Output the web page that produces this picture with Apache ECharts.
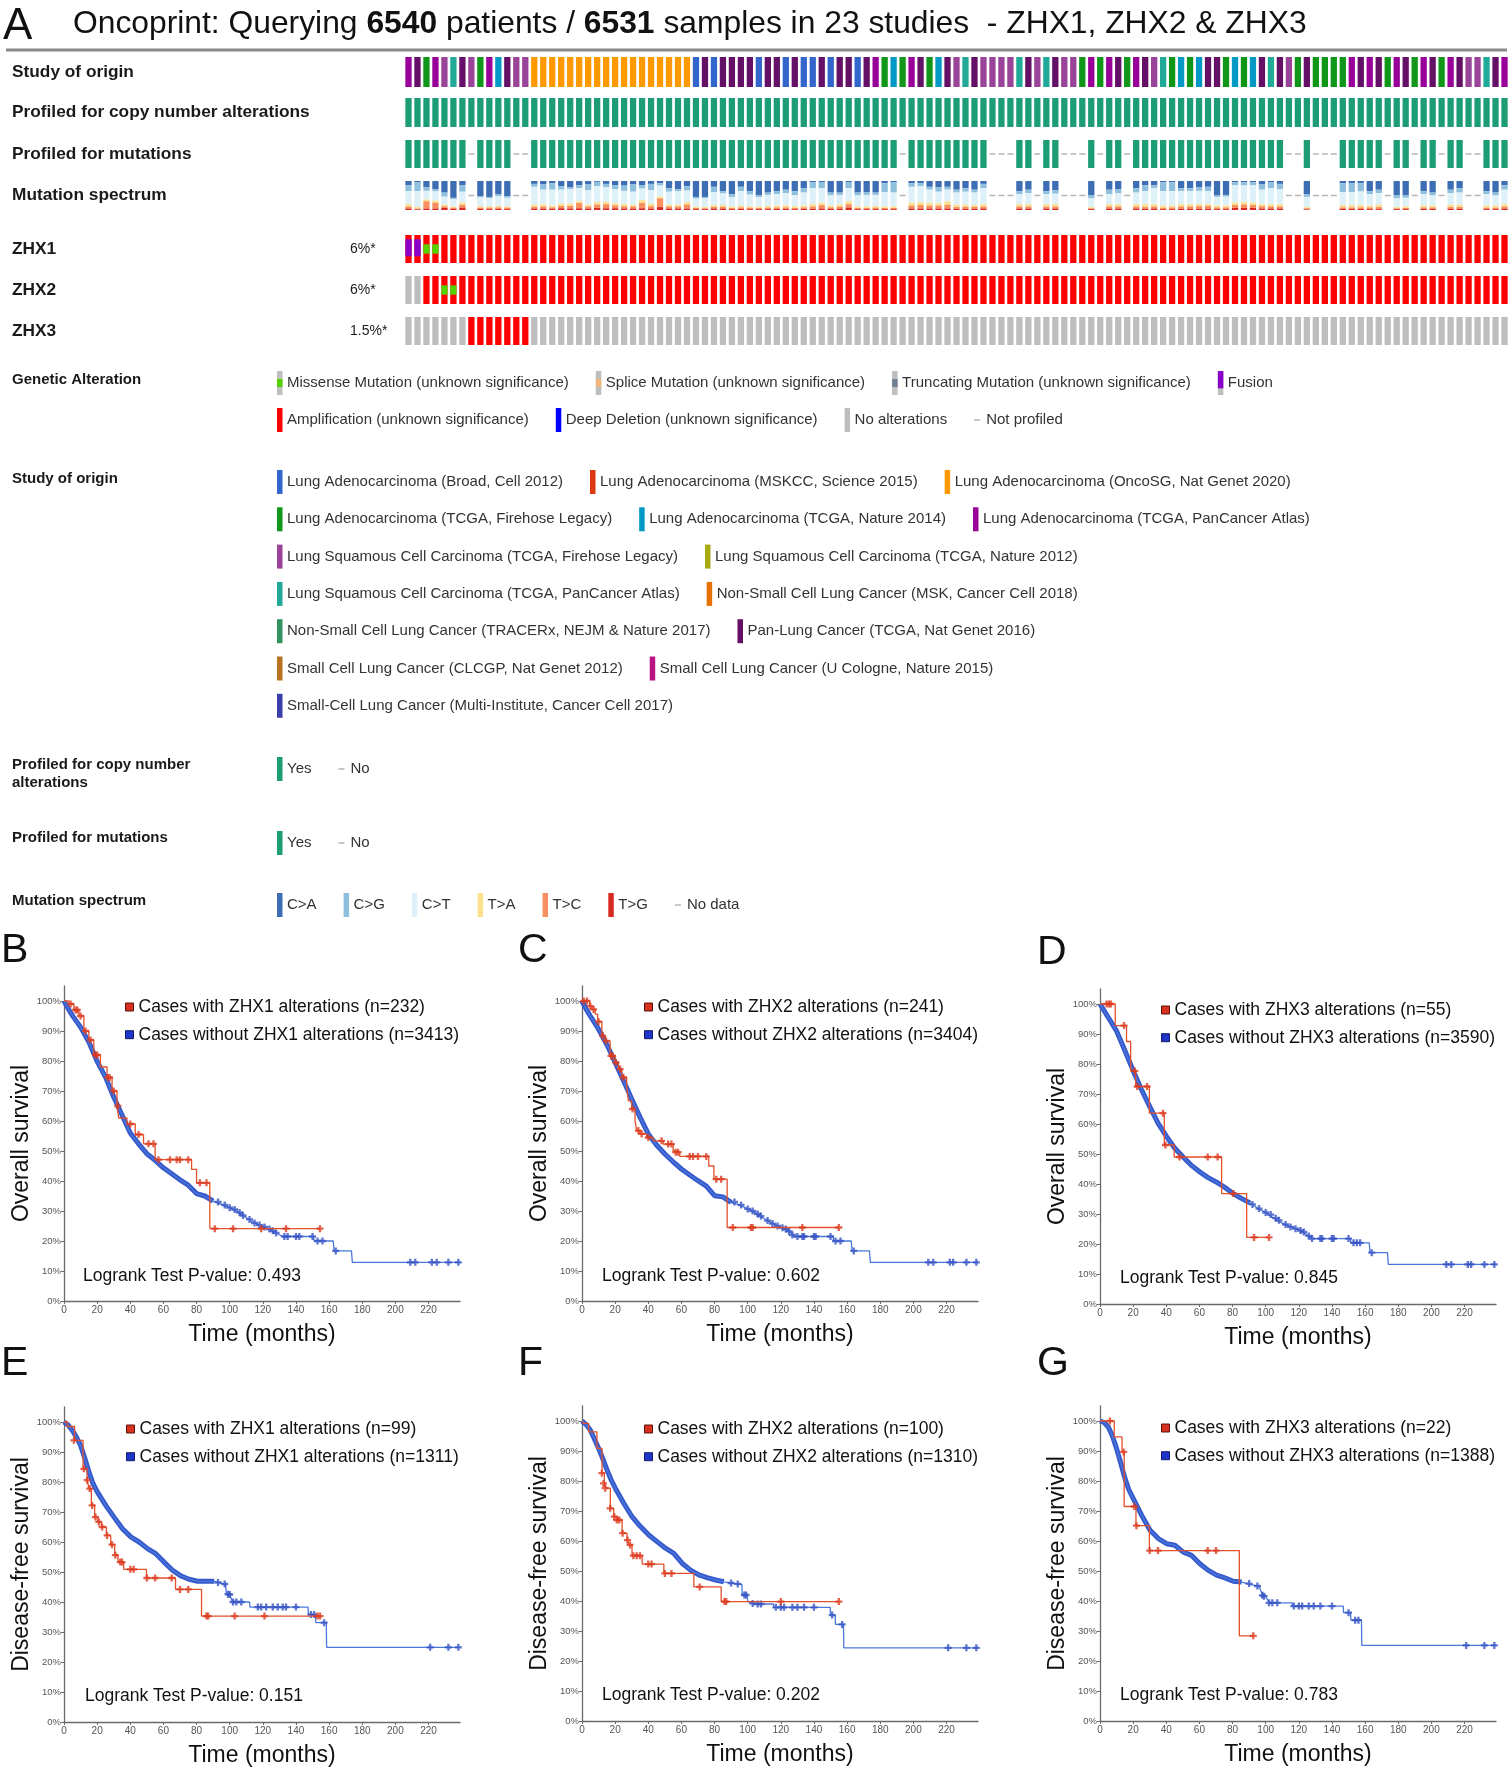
<!DOCTYPE html>
<html>
<head>
<meta charset="utf-8">
<script src="https://cdn.jsdelivr.net/npm/echarts@6/dist/echarts.min.js"></script>
<style>
html,body{margin:0;padding:0;background:#fff}
#chart{width:1509px;height:1772px}
</style>
</head>
<body>
<div id="chart"></div>
<script>
var FONT = '"Liberation Sans", Arial, Helvetica, sans-serif';

// ---------- oncoprint ----------
var studyNames = [
  'Lung Adenocarcinoma (Broad, Cell 2012)', 'Lung Adenocarcinoma (MSKCC, Science 2015)', 'Lung Adenocarcinoma (OncoSG, Nat Genet 2020)',
  'Lung Adenocarcinoma (TCGA, Firehose Legacy)', 'Lung Adenocarcinoma (TCGA, Nature 2014)', 'Lung Adenocarcinoma (TCGA, PanCancer Atlas)',
  'Lung Squamous Cell Carcinoma (TCGA, Firehose Legacy)', 'Lung Squamous Cell Carcinoma (TCGA, Nature 2012)',
  'Lung Squamous Cell Carcinoma (TCGA, PanCancer Atlas)', 'Non-Small Cell Lung Cancer (MSK, Cancer Cell 2018)',
  'Non-Small Cell Lung Cancer (TRACERx, NEJM & Nature 2017)', 'Pan-Lung Cancer (TCGA, Nat Genet 2016)',
  'Small Cell Lung Cancer (CLCGP, Nat Genet 2012)', 'Small Cell Lung Cancer (U Cologne, Nature 2015)',
  'Small-Cell Lung Cancer (Multi-Institute, Cancer Cell 2017)'
];
var studyColors = ['#3366cc','#dc3912','#ff9900','#109618','#0099c6','#990099','#994499','#aaaa11',
  '#22aa99','#e67300','#329262','#651067','#b77322','#b91383','#3b3eac'];
var studyLegendRows = [3,3,2,2,2,2,1];

// study index of each sample column
var studyOfColumn = [5,11,3,5,6,8,11,6,3,5,
  4,11,6,6,2,2,2,2,2,2,
  2,2,2,2,2,2,2,2,2,2,
  2,2,0,11,0,11,11,11,11,0,
  11,11,0,11,0,0,11,0,11,11,
  0,11,5,3,4,3,5,11,3,4,
  11,6,8,11,6,6,6,6,8,11,
  6,8,11,6,6,3,5,3,5,11,
  3,5,11,6,8,3,4,3,4,11,
  11,3,4,3,4,11,8,11,6,3,
  11,3,3,3,3,5,11,5,11,3,
  5,11,3,5,11,3,5,11,6,6,
  8,11,5];

var mutProfiled = [1,1,1,1,1,1,1,0,1,1,
  1,1,0,0,1,1,1,1,1,1,
  1,1,1,1,1,1,1,1,1,1,
  1,1,1,1,1,1,1,1,1,1,
  1,1,1,1,1,1,1,1,1,1,
  1,1,1,1,1,0,1,1,1,1,
  1,1,1,1,1,0,0,0,1,1,
  0,1,1,0,0,0,1,0,1,1,
  0,1,1,1,1,1,1,1,1,1,
  1,1,1,1,1,1,1,1,0,0,
  1,0,0,0,1,1,1,1,1,0,
  1,1,0,1,1,0,1,1,0,0,
  1,1,1];

// mutation spectrum shares per column (top to bottom)
var specCA = [15,5,22,28,40,58,15,null,52,55,
  45,52,null,null,10,12,8,18,22,15,
  12,3,10,14,16,12,14,10,8,25,
  28,18,55,55,20,35,45,20,35,50,
  40,35,30,35,25,5,5,40,40,5,
  40,38,40,8,5,null,8,8,20,22,
  20,30,25,30,10,null,null,null,35,30,
  null,35,32,null,null,null,50,null,30,28,
  null,25,15,15,5,5,25,25,22,20,
  50,48,5,5,5,12,5,10,null,null,
  45,null,null,null,8,8,8,35,30,null,
  50,50,null,35,40,null,30,25,null,null,
  35,40,15];
var specCG = [20,30,12,8,14,5,22,null,5,4,
  8,6,null,null,10,18,22,12,6,10,
  20,15,12,15,18,25,12,22,8,12,
  8,15,6,5,18,8,10,15,12,6,
  8,10,12,14,15,20,20,10,8,20,
  10,10,8,30,35,null,12,10,10,15,
  10,10,12,10,15,null,null,null,10,12,
  null,10,12,null,null,null,10,null,15,15,
  null,15,20,10,30,30,10,10,12,15,
  5,6,10,10,10,18,20,18,null,null,
  10,null,null,null,30,30,28,10,12,null,
  10,8,null,10,10,null,12,15,null,null,
  10,10,15];
var specCT = [45,55,30,32,28,25,38,null,30,28,
  33,30,null,null,62,50,55,48,50,45,
  50,55,50,48,46,45,40,47,38,45,
  46,40,28,30,45,40,33,50,40,32,
  38,40,42,38,45,55,50,35,33,45,
  38,40,38,50,48,null,55,55,45,40,
  40,42,45,43,55,null,null,null,35,38,
  null,35,36,null,null,null,30,null,35,37,
  null,40,45,55,50,50,45,45,45,45,
  30,31,60,58,60,50,55,52,null,null,
  35,null,null,null,45,45,47,40,40,null,
  30,30,null,40,35,null,40,42,null,null,
  40,35,50];
var specTA = [8,5,6,7,5,4,7,null,5,5,
  5,4,null,null,7,8,6,8,8,6,
  6,8,8,7,7,6,10,8,6,6,
  6,8,4,4,6,6,5,6,5,5,
  6,6,7,6,6,8,8,6,8,10,
  5,5,6,5,5,null,10,10,10,8,
  12,8,7,6,8,null,null,null,8,8,
  null,8,8,null,null,null,4,null,8,8,
  null,8,10,8,7,6,8,8,8,6,
  6,6,8,8,8,7,8,8,null,null,
  4,null,null,null,8,8,8,6,8,null,
  4,5,null,6,6,null,8,8,null,null,
  7,7,8];
var specTC = [7,3,25,20,6,4,10,null,4,5,
  5,5,null,null,6,7,5,8,9,18,
  7,12,14,10,8,7,18,8,30,7,
  7,14,4,3,6,6,4,5,5,4,
  5,5,5,4,5,8,12,5,7,12,
  4,4,5,4,4,null,10,12,10,10,
  13,6,7,7,7,null,null,null,7,7,
  null,7,7,null,null,null,3,null,7,7,
  null,7,6,7,5,6,8,8,9,10,
  6,6,10,12,10,8,7,7,null,null,
  4,null,null,null,5,5,5,6,7,null,
  3,4,null,5,5,null,6,6,null,null,
  5,5,7];
var specTG = [5,2,5,5,7,4,8,null,4,3,
  4,3,null,null,5,5,4,6,5,6,
  5,7,6,6,5,5,6,5,10,5,
  5,5,3,3,5,5,3,4,3,3,
  3,4,4,3,4,4,5,4,4,8,
  3,3,3,3,3,null,5,5,5,5,
  5,4,4,4,5,null,null,null,5,5,
  null,5,5,null,null,null,3,null,5,5,
  null,5,4,5,3,3,4,4,4,4,
  3,3,7,7,7,5,5,5,null,null,
  2,null,null,null,4,4,4,3,3,null,
  3,3,null,4,4,null,4,4,null,null,
  3,3,5];
var specLabels = ['C>A','C>G','C>T','T>A','T>C','T>G'];
var specColors = ['#3d6eb4','#8ebfdc','#dff1f8','#fce08e','#f78f5e','#d62b23'];

// alteration per column: A amplification, F fusion, M missense, N none
var zhx1Alt = ('FFMMAAAAAA AAAAAAAAAA AAAAAAAAAA AAAAAAAAAA AAAAAAAAAA AAAAAAAAAA AAAAAAAAAA ' +
  'AAAAAAAAAA AAAAAAAAAA AAAAAAAAAA AAAAAAAAAA AAAAAAAAAA AAA').replace(/ /g, '').split('');
var zhx2Alt = ('NNAAMMAAAA AAAAAAAAAA AAAAAAAAAA AAAAAAAAAA AAAAAAAAAA AAAAAAAAAA AAAAAAAAAA ' +
  'AAAAAAAAAA AAAAAAAAAA AAAAAAAAAA AAAAAAAAAA AAAAAAAAAA AAA').replace(/ /g, '').split('');
var zhx3Alt = ('NNNNNNNAAA AAAANNNNNN NNNNNNNNNN NNNNNNNNNN NNNNNNNNNN NNNNNNNNNN NNNNNNNNNN ' +
  'NNNNNNNNNN NNNNNNNNNN NNNNNNNNNN NNNNNNNNNN NNNNNNNNNN NNN').replace(/ /g, '').split('');
var geneNames = ['ZHX1', 'ZHX2', 'ZHX3'];
var genePercent = ['6%*', '6%*', '1.5%*'];

// ---------- Kaplan-Meier curves [months, survival %] ----------
// B: overall survival, ZHX1
var osZhx1AltSteps = [[0,100],[3,99],[6,97],[9,95],[12,90],[15,87],[18,82],[22,78],[26,74.5],[29,70],[32,65],[33,61],
  [38,59],[43,55.5],[48,52.4],[55,47.1],[77,43.9],[80,39.4],[88,24.1],[154.5,24.1]];
var osZhx1AltCens = [[4,99],[7,97],[8,97],[10,95],[13,90],[16,87],[19,82],[20,82],[26.5,74.5],[27.5,74.5],[30,70],
  [32.5,65],[40,59],[45,55.5],[51,52.4],[54,52.4],[57,47.1],[64,47.1],[68,47.1],[70,47.1],[75,47.1],[82,39.4],
  [86,39.4],[91,24.1],[102,24.1],[119,24.1],[134,24.1],[154.5,24.1]];
var osZhx1WtCurve = [[0,100],[2.5,97.5],[5,95.2],[10,91.3],[15,86.3],[20,79.9],[25,74.7],[30,68],[35,62],[40,56],
  [45,52.4],[50,49.1],[55,46.9],[60,44.4],[65,42.4],[70,40.4],[75,38.6],[80,35.8],[85,35],[90,33.3],[95,32.2],
  [100,31.1],[105,29.7],[110,27.8],[115,26],[120,24.9],[125,23.6],[130,22.1],[132,21.5],[150.5,21.5],[151,20],
  [162.5,20],[163,16.7],[173.5,16.7],[174,12.9],[239,12.9]];
var osZhx1WtCens = [[93,33],[97,32],[100,31.1],[103,30.5],[106,29.5],[108,28.5],[112,27.2],[115,26],[118,25.3],
  [121,24.7],[124,24],[126,23.4],[128,22.7],[133,21.5],[135,21.5],[140,21.5],[142,21.5],[150,21.5],[153,20],
  [156,20],[164,16.7],[209,12.9],[212,12.9],[222,12.9],[225,12.9],[232,12.9],[238,12.9]];

// C: overall survival, ZHX2
var osZhx2AltSteps = [[0,100],[4.6,98.3],[6,97.2],[8,95.6],[9.5,93.1],[12,88.4],[14,86.7],[17,81.7],[20,79.5],
  [22,77.3],[24,74.5],[27,71.2],[28,66.7],[30,64],[32,60.1],[33,56.8],[35,55.7],[39,54.5],[43,53.4],[49,52.3],
  [55,50.1],[56,49.6],[59,48.2],[76.5,45],[79.6,40.6],[87.6,24.5],[155,24.5]];
var osZhx2AltCens = [[1,100],[3,100],[5,98.3],[7,97.2],[10,93.1],[12.5,88.4],[14.5,86.7],[17.5,81.7],[18.5,81.7],
  [20.5,79.5],[23,77.3],[25,74.5],[30.5,64],[34,56.8],[36,55.7],[40,54.5],[48,53.4],[52,52.3],[54,52.3],
  [56.5,49.6],[58,49.6],[65,48.2],[67,48.2],[70,48.2],[75,48.2],[81,40.6],[84,40.6],[91,24.5],[102,24.5],
  [103,24.5],[133,24.5],[155,24.5]];
var osZhx2WtCurve = [[0,100],[2.5,97.3],[5,95],[10,90.6],[15,85.5],[20,79.5],[25,73.5],[30,67.3],[35,61.3],
  [40,55.7],[45,52],[50,49],[55,46.4],[60,44],[65,42],[70,40.1],[75,38.3],[80,35.1],[85,34.7],[90,32.9],[95,32],
  [100,30.7],[105,29.3],[110,27.4],[115,25.8],[120,24.6],[126,22.9],[128,21.5],[151.5,21.5],[152,20],[162.5,20],
  [163,16.7],[173.5,16.7],[174,12.9],[239,12.9]];
var osZhx2WtCens = [[92,33],[96,32],[100,30.7],[103,30],[106,29],[108,28.3],[112,26.8],[115,25.8],[118,25],
  [121,24.4],[123,24],[125,23.2],[127,22],[130,21.5],[133,21.5],[134,21.5],[140,21.5],[141,21.5],[150,21.5],
  [153,20],[156,20],[164,16.7],[209,12.9],[212,12.9],[222,12.9],[224,12.9],[232,12.9],[238,12.9]];

// D: overall survival, ZHX3
var osZhx3AltSteps = [[0,100],[9.2,92.8],[16,87.5],[18.5,77.7],[21.5,72.5],[29.8,63.6],[38.8,53],[44.8,49],
  [73.4,36.8],[88.5,22.2],[102,22.2]];
var osZhx3AltCens = [[4,100],[5.5,100],[6.5,100],[14.5,92.8],[21,77.7],[22.5,72.5],[28.4,72.5],[38,63.6],
  [39.5,53],[48,49],[65,49],[71,49],[80.4,36.8],[93,22.2],[102,22.2]];
var osZhx3WtCurve = [[0,100],[5,95.5],[10,91],[15,84.5],[20.1,77.7],[25,71.5],[30.2,65.6],[35,60.3],[40.2,55.8],
  [45,52],[50.3,48.9],[55,46.3],[60.3,44],[65,42.2],[70.4,40.6],[75,39],[80.4,36.8],[85,35.3],[90.5,33.7],[95,32],
  [100.5,30.3],[105,28.6],[110.6,26.8],[115,25.7],[120.6,24.6],[125,23],[128,21.8],[151,21.8],[151.5,20.4],
  [162.5,20.4],[163,17.1],[173.5,17.1],[174,13.2],[239,13.2]];
var osZhx3WtCens = [[92,33.2],[96,31.8],[100,30.5],[103,29.8],[106,28.6],[108,27.9],[112,26.5],[115,25.7],
  [118,25.1],[121,24.5],[123,24],[126,22.7],[128,21.8],[133,21.8],[134,21.8],[140,21.8],[141,21.8],[150,21.8],
  [153,20.4],[155,20.4],[157,20.4],[164,17.1],[209,13.2],[212,13.2],[222,13.2],[224,13.2],[232,13.2],[238,13.2]];

// E: disease-free survival, ZHX1
var dfsZhx1AltSteps = [[0,100],[2,98.5],[6.4,93.9],[11.5,84.4],[13.9,80.6],[15.1,77.8],[16.5,72.2],[18.5,68.3],
  [20.5,66.7],[22.6,65],[25.6,62.2],[28.2,59.1],[30.6,55.6],[32.6,53.6],[33.5,53.3],[36,50.9],[49.8,48],
  [67.3,44.2],[83,35.3],[154.5,35.3]];
var dfsZhx1AltCens = [[6,93.9],[12,84.4],[14,80.6],[15.5,77.8],[17,72.2],[19,68.3],[21,66.7],[23,65],[26,62.2],
  [29,59.1],[31,55.6],[34,53.3],[35,53.3],[40,50.9],[42,50.9],[50,48],[55,48],[65,48],[70,44.2],[75,44.2],
  [86,35.3],[87,35.3],[103,35.3],[121,35.3],[153,35.3],[154.5,35.3]];
var dfsZhx1WtCurve = [[0,100],[2.5,99],[5,97.2],[7.5,95],[10,92.2],[12.5,88],[15.1,83.3],[17.5,79.5],[20.1,76.7],
  [25.2,72.2],[30.2,68.3],[35.3,64.4],[40.3,61.7],[45.3,60],[50.4,57.8],[55.4,56.1],[60.4,53.3],[65.5,50.6],
  [70.5,48.7],[75.5,47.6],[80.6,46.9],[90.7,46.9],[95.7,46.1],[97.5,46],[98,42.8],[100,42.5],[101.7,40],[112,40],
  [112.2,38.3],[147.3,38.3],[147.5,35.8],[151.8,35.8],[152,33.1],[158.3,33.1],[158.5,24.9],[239,24.9]];
var dfsZhx1WtCens = [[93,46.5],[97,46],[99,42.6],[100,42.5],[102,40],[104,40],[107,40],[117,38.3],[119,38.3],
  [122,38.3],[126,38.3],[129,38.3],[132,38.3],[134,38.3],[140,38.3],[149,35.8],[151,35.8],[157,33.1],
  [221,24.9],[232,24.9],[238,24.9]];

// F: disease-free survival, ZHX2
var dfsZhx2AltSteps = [[0,100],[1,99.2],[4,96.4],[9,90.9],[12.1,82.6],[13.5,79.2],[14.7,77.6],[17.1,70.9],
  [19.1,68.1],[21.6,67],[24.2,62.6],[27.2,60.3],[28.2,58.7],[30.2,55.1],[36.3,52.3],[49.4,49.2],[67.5,44.7],
  [84,39.8],[155,39.8]];
var dfsZhx2AltCens = [[12,82.6],[13,79.2],[14,77.6],[17,70.9],[19.5,68.1],[21,67],[22.5,67],[24.5,62.6],
  [27.5,60.3],[29,58.7],[31,55.1],[33,55.1],[35,55.1],[40,52.3],[42,52.3],[50,49.2],[54,49.2],[71,44.7],
  [86,39.8],[87,39.8],[120,39.8],[155,39.8]];
var dfsZhx2WtCurve = [[0,100],[2.5,98.8],[5,97],[7.5,94],[10,90.9],[12.5,87.5],[15.1,83.7],[17.5,80.5],
  [20.1,77.6],[25.2,72.6],[30.2,68.1],[35.3,64.8],[40.3,62],[45.3,59.8],[50.4,57.6],[55.4,55.9],[60.4,52.6],
  [65.5,50.3],[70.5,48.7],[75.5,47.8],[80.6,47],[85.6,46.4],[92.7,45.7],[96.5,45.5],[96.7,42.2],[99.5,42],
  [100.1,39.8],[103.7,39],[115.6,39],[115.8,37.9],[149.8,37.9],[150,35.3],[152.8,35.3],[153,32.2],[157.8,32.2],
  [158,24.4],[239,24.4]];
var dfsZhx2WtCens = [[90,46],[94,45.7],[98,42],[99,42],[103,39.2],[106,39],[108,39],[117,37.9],[120,37.9],
  [122,37.9],[127,37.9],[130,37.9],[134,37.9],[140,37.9],[151,35.3],[157,32.2],[221,24.4],[232,24.4],[238,24.4]];

// G: disease-free survival, ZHX3
var dfsZhx3AltSteps = [[0,100],[8.6,94.7],[13.3,89.7],[14.6,71.5],[21.7,65.1],[29.8,56.8],[84.1,28.4],[92.5,28.4]];
var dfsZhx3AltCens = [[6,100],[14.3,89.7],[20.7,71.5],[22,65.1],[30,56.8],[35,56.8],[65,56.8],[70,56.8],[92.5,28.4]];
var dfsZhx3WtCurve = [[0,100],[2.5,99.5],[5,98],[7.5,95],[10,90.8],[12.5,86],[15.1,80.8],[17.5,77],[20.1,74.1],
  [25.1,68.6],[30.2,63.6],[35.2,60.8],[40.2,59.1],[45.2,58.6],[50.3,56.3],[55.3,55.2],[60.3,52.4],[65.4,50.2],
  [70.4,48.6],[75.4,47.7],[80.4,46.6],[85.5,46.3],[93.1,45.2],[96,45],[98.1,41.9],[100,41.5],[102.2,39.4],
  [116,39.4],[116.2,38.3],[146.8,38.3],[147,36.1],[151.2,36.1],[151.4,33.6],[157.8,33.6],[158,25.2],[239,25.2]];
var dfsZhx3WtCens = [[90,45.8],[95,45],[98,41.9],[99,41.6],[102,39.4],[104,39.4],[107,39.4],[117,38.3],[120,38.3],
  [122,38.3],[126,38.3],[129,38.3],[133,38.3],[140,38.3],[150,36.1],[154,33.6],[156,33.6],[221,25.2],[232,25.2],[238,25.2]];

var kmPanels = [
  {letter:'B', x:64,   y:986,  lx:1,    ly:930,  yName:'Overall survival', alt:osZhx1AltSteps, altCens:osZhx1AltCens, wt:osZhx1WtCurve, wtCens:osZhx1WtCens,
   altName:'Cases with ZHX1 alterations (n=232)', wtName:'Cases without ZHX1 alterations (n=3413)', p:'0.493', legX:125, legY:997, pX:83, pY:1267},
  {letter:'C', x:582,  y:986,  lx:518,  ly:930,  yName:'Overall survival', alt:osZhx2AltSteps, altCens:osZhx2AltCens, wt:osZhx2WtCurve, wtCens:osZhx2WtCens,
   altName:'Cases with ZHX2 alterations (n=241)', wtName:'Cases without ZHX2 alterations (n=3404)', p:'0.602', legX:644, legY:997, pX:602, pY:1267},
  {letter:'D', x:1100, y:989,  lx:1037, ly:932,  yName:'Overall survival', alt:osZhx3AltSteps, altCens:osZhx3AltCens, wt:osZhx3WtCurve, wtCens:osZhx3WtCens,
   altName:'Cases with ZHX3 alterations (n=55)', wtName:'Cases without ZHX3 alterations (n=3590)', p:'0.845', legX:1161, legY:1000, pX:1120, pY:1269},
  {letter:'E', x:64,   y:1407, lx:1,    ly:1343, yName:'Disease-free survival', alt:dfsZhx1AltSteps, altCens:dfsZhx1AltCens, wt:dfsZhx1WtCurve, wtCens:dfsZhx1WtCens,
   altName:'Cases with ZHX1 alterations (n=99)', wtName:'Cases without ZHX1 alterations (n=1311)', p:'0.151', legX:126, legY:1419, pX:85, pY:1687},
  {letter:'F', x:582,  y:1406, lx:518,  ly:1343, yName:'Disease-free survival', alt:dfsZhx2AltSteps, altCens:dfsZhx2AltCens, wt:dfsZhx2WtCurve, wtCens:dfsZhx2WtCens,
   altName:'Cases with ZHX2 alterations (n=100)', wtName:'Cases without ZHX2 alterations (n=1310)', p:'0.202', legX:644, legY:1419, pX:602, pY:1686},
  {letter:'G', x:1100, y:1406, lx:1037, ly:1343, yName:'Disease-free survival', alt:dfsZhx3AltSteps, altCens:dfsZhx3AltCens, wt:dfsZhx3WtCurve, wtCens:dfsZhx3WtCens,
   altName:'Cases with ZHX3 alterations (n=22)', wtName:'Cases without ZHX3 alterations (n=1388)', p:'0.783', legX:1161, legY:1418, pX:1120, pY:1686}
];
var bandEnd = 92;   // dense censoring band drawn thick up to here
var PLUS = 'path://M2,0H4V2H6V4H4V6H2V4H0V2H2Z';

var chart = echarts.init(document.getElementById('chart'));

var colIdx = studyOfColumn.map(function (s, i) { return i; });
var grids = [], xAxes = [], yAxes = [], series = [], titles = [], legends = [], gfx = [];

// ---- oncoprint tracks ----
var tracks = [
  {label:'Study of origin', top:57, h:30},
  {label:'Profiled for copy number alterations', top:98, h:29},
  {label:'Profiled for mutations', top:140, h:28},
  {label:'Mutation spectrum', top:181, h:29},
  {label:'ZHX1', top:235, h:28},
  {label:'ZHX2', top:276, h:28},
  {label:'ZHX3', top:317, h:28}
];
tracks.forEach(function (t, g) {
  grids.push({left:404, top:t.top, width:1105, height:t.h, outerBoundsMode:'none'});
  xAxes.push({gridIndex:g, type:'category', data:colIdx, show:false});
  yAxes.push({gridIndex:g, type:'value', min:0, max:1, show:false});
  gfx.push({type:'text', x:12, y:t.top + t.h / 2, style:{text:t.label, fontSize:17.3, fontWeight:'bold',
    fontFamily:FONT, fill:'#1a1a1a', verticalAlign:'middle'}});
});

function cell(api, i, y0, y1, fill) {
  var w = api.size([1, 0])[0] * 0.7;
  var cx = api.coord([i, 0])[0];
  var yb = api.coord([i, y0])[1], yt = api.coord([i, y1])[1];
  return {type:'rect', shape:{x:cx - w / 2, y:yt, width:w, height:yb - yt}, style:{fill:fill}};
}
function dash(api, i) {
  var cx = api.coord([i, 0])[0], cy = api.coord([i, 0.5])[1];
  return {type:'rect', shape:{x:cx - 3, y:cy - 0.75, width:6, height:1.5}, style:{fill:'#b4b4b4'}};
}
function colData() { return colIdx.map(function (i) { return [i, 0.5]; }); }

series.push({type:'custom', xAxisIndex:0, yAxisIndex:0, silent:true, data:colData(),
  renderItem:function (p, api) { var i = p.dataIndex; return cell(api, i, 0, 1, studyColors[studyOfColumn[i]]); }});
series.push({type:'custom', xAxisIndex:1, yAxisIndex:1, silent:true, data:colData(),
  renderItem:function (p, api) { return cell(api, p.dataIndex, 0, 1, '#1c9d76'); }});
series.push({type:'custom', xAxisIndex:2, yAxisIndex:2, silent:true, data:colData(),
  renderItem:function (p, api) {
    var i = p.dataIndex;
    return mutProfiled[i] ? cell(api, i, 0, 1, '#1c9d76') : dash(api, i);
  }});
var specParts = [specCA, specCG, specCT, specTA, specTC, specTG];
series.push({type:'custom', xAxisIndex:3, yAxisIndex:3, silent:true, data:colData(),
  renderItem:function (p, api) {
    var i = p.dataIndex;
    if (!mutProfiled[i]) return dash(api, i);
    var vals = specParts.map(function (a) { return a[i] || 0; });
    var tot = vals.reduce(function (s, v) { return s + v; }, 0);
    var top = 1, kids = [];
    vals.forEach(function (v, k) {
      var h = v / tot;
      kids.push(cell(api, i, top - h, top, specColors[k]));
      top -= h;
    });
    return {type:'group', children:kids};
  }});
[zhx1Alt, zhx2Alt, zhx3Alt].forEach(function (row, r) {
  var g = 4 + r;
  series.push({type:'custom', xAxisIndex:g, yAxisIndex:g, silent:true, data:colData(),
    renderItem:function (p, api) {
      var i = p.dataIndex, c = row[i];
      var kids = [cell(api, i, 0, 1, c === 'N' ? '#bebebe' : '#ff0000')];
      if (c === 'F') kids.push(cell(api, i, 0.24, 0.85, '#8b00c9'));
      if (c === 'M') kids.push(cell(api, i, 0.333, 0.667, '#53d400'));
      return {type:'group', children:kids};
    }});
  gfx.push({type:'text', x:350, y:tracks[g].top + tracks[g].h / 2, style:{text:genePercent[r], fontSize:14,
    fontFamily:FONT, fill:'#1a1a1a', verticalAlign:'middle'}});
});

// ---- title ----
titles.push({text:'A', left:3, top:5, padding:0, textStyle:{fontSize:44, fontWeight:'normal', fontFamily:FONT, color:'#111'}});
titles.push({left:73, top:8, padding:0,
  text:'{n|Oncoprint: Querying }{b|6540}{n| patients / }{b|6531}{n| samples in 23 studies  - ZHX1, ZHX2 & ZHX3}',
  textStyle:{fontWeight:'normal', rich:{
    n:{fontSize:31.8, fontWeight:'normal', fontFamily:FONT, color:'#111'},
    b:{fontSize:31.8, fontWeight:'bold', fontFamily:FONT, color:'#111'}}}});
gfx.push({type:'line', shape:{x1:6, y1:50, x2:1507, y2:50}, style:{stroke:'#8a8a8a', lineWidth:3}});

// ---- oncoprint legend ----
var LFONT = '15px "Liberation Sans", Arial, sans-serif';
var mctx = document.createElement('canvas').getContext('2d');
function textW(t) { mctx.font = LFONT; return mctx.measureText(t).width; }
function swatch(kind, color, x, y) {
  var w = 5.5, h = 24, top = y - h / 2;
  if (kind === 'dash') return [{type:'rect', shape:{x:x, y:y - 0.75, width:6, height:1.5}, style:{fill:'#b4b4b4'}}];
  var out = [{type:'rect', shape:{x:x, y:top, width:w, height:h}, style:{fill:(kind === 'full' ? color : '#bebebe')}}];
  if (kind === 'mid') out.push({type:'rect', shape:{x:x, y:top + h / 3, width:w, height:h / 3}, style:{fill:color}});
  if (kind === 'fusion') out.push({type:'rect', shape:{x:x, y:top, width:w, height:h * 0.72}, style:{fill:color}});
  return out;
}
function legendRow(items, y) {
  var x = 277;
  items.forEach(function (it) {
    swatch(it.kind, it.color, x, y).forEach(function (e) { gfx.push(e); });
    var tx = x + (it.kind === 'dash' ? 12 : 10);
    gfx.push({type:'text', x:tx, y:y, style:{text:it.label, font:LFONT, fill:'#333', verticalAlign:'middle'}});
    x = tx + textW(it.label) + 27;
  });
}
function sectionLabel(lines, y) {
  lines.forEach(function (l, k) {
    gfx.push({type:'text', x:12, y:y + k * 18, style:{text:l, fontSize:15, fontWeight:'bold', fontFamily:FONT,
      fill:'#1a1a1a', verticalAlign:'middle'}});
  });
}
sectionLabel(['Genetic Alteration'], 380);
legendRow([
  {label:'Missense Mutation (unknown significance)', kind:'mid', color:'#53d400'},
  {label:'Splice Mutation (unknown significance)', kind:'mid', color:'#f0b87b'},
  {label:'Truncating Mutation (unknown significance)', kind:'mid', color:'#708090'},
  {label:'Fusion', kind:'fusion', color:'#8b00c9'}], 383);
legendRow([
  {label:'Amplification (unknown significance)', kind:'full', color:'#ff0000'},
  {label:'Deep Deletion (unknown significance)', kind:'full', color:'#0000ff'},
  {label:'No alterations', kind:'full', color:'#bebebe'},
  {label:'Not profiled', kind:'dash'}], 420);

sectionLabel(['Study of origin'], 479);
var si = 0;
studyLegendRows.forEach(function (n, r) {
  var items = [];
  for (var k = 0; k < n; k++, si++) items.push({label:studyNames[si], kind:'full', color:studyColors[si]});
  legendRow(items, 482 + r * 37.3);
});

sectionLabel(['Profiled for copy number', 'alterations'], 765);
legendRow([{label:'Yes', kind:'full', color:'#1c9d76'}, {label:'No', kind:'dash'}], 769);
sectionLabel(['Profiled for mutations'], 838);
legendRow([{label:'Yes', kind:'full', color:'#1c9d76'}, {label:'No', kind:'dash'}], 843);
sectionLabel(['Mutation spectrum'], 901);
legendRow(specLabels.map(function (l, k) { return {label:l, kind:'full', color:specColors[k]}; })
  .concat([{label:'No data', kind:'dash'}]), 905);

// ---- Kaplan-Meier panels ----
kmPanels.forEach(function (pn) {
  var g = grids.length;
  grids.push({left:pn.x, top:pn.y, width:396, height:315, outerBoundsMode:'none'});
  xAxes.push({gridIndex:g, type:'value', min:0, max:239, interval:20,
    name:'Time (months)', nameLocation:'middle', nameGap:22,
    nameTextStyle:{fontSize:23, fontFamily:FONT, color:'#111'},
    axisLine:{show:true, lineStyle:{color:'#6a6a6a', width:1.3}},
    axisTick:{show:true, length:3, lineStyle:{color:'#6a6a6a'}},
    axisLabel:{fontSize:10, color:'#555', margin:4, fontFamily:FONT, showMaxLabel:false},
    splitLine:{show:false}});
  yAxes.push({gridIndex:g, type:'value', min:0, max:105, interval:10,
    name:pn.yName, nameLocation:'middle', nameGap:31,
    nameTextStyle:{fontSize:23, fontFamily:FONT, color:'#111'},
    axisLine:{show:true, lineStyle:{color:'#6a6a6a', width:1.3}},
    axisTick:{show:true, length:3, lineStyle:{color:'#6a6a6a'}},
    axisLabel:{fontSize:9.5, color:'#555', margin:3, fontFamily:FONT, showMaxLabel:false, formatter:'{value}%'},
    splitLine:{show:false}});
  var base = {xAxisIndex:g, yAxisIndex:g, silent:true, animation:false};
  series.push(Object.assign({type:'line', name:pn.wtName, data:pn.wt.filter(function (d) { return d[0] <= bandEnd; }),
    showSymbol:false, lineStyle:{color:'#3659cc', width:5}, itemStyle:{color:'#1f35c9'}, z:2}, base));
  series.push(Object.assign({type:'line', name:pn.wtName, data:pn.wt, showSymbol:false,
    lineStyle:{color:'#4a78da', width:1.3}, itemStyle:{color:'#1f35c9'}, z:2}, base));
  series.push(Object.assign({type:'scatter', name:pn.wtName, data:pn.wtCens, symbol:PLUS, symbolSize:7,
    itemStyle:{color:'#3553c4'}, z:3}, base));
  series.push(Object.assign({type:'line', name:pn.altName, data:pn.alt, step:'end', showSymbol:false,
    lineStyle:{color:'#e2502c', width:1.3}, itemStyle:{color:'#d8301e'}, z:4}, base));
  series.push(Object.assign({type:'scatter', name:pn.altName, data:pn.altCens, symbol:PLUS, symbolSize:7,
    itemStyle:{color:'#dc3a1e'}, z:5}, base));
  legends.push({orient:'vertical', left:pn.legX, top:pn.legY, padding:0, itemGap:7.7, itemWidth:8, itemHeight:8,
    icon:'rect', selectedMode:false,
    textStyle:{fontSize:17.5, fontFamily:FONT, color:'#111', lineHeight:20},
    data:[{name:pn.altName, itemStyle:{color:'#d8301e', borderColor:'#5a120a', borderWidth:1}},
          {name:pn.wtName, itemStyle:{color:'#1f35c9', borderColor:'#101a66', borderWidth:1}}]});
  titles.push({text:pn.letter, left:pn.lx, top:pn.ly, padding:0,
    textStyle:{fontSize:41, fontWeight:'normal', fontFamily:FONT, color:'#111'}});
  titles.push({text:'Logrank Test P-value: ' + pn.p, left:pn.pX, top:pn.pY, padding:0,
    textStyle:{fontSize:17.5, fontWeight:'normal', fontFamily:FONT, color:'#111'}});
});

chart.setOption({
  animation:false,
  backgroundColor:'#fff',
  title:titles,
  legend:legends,
  grid:grids,
  xAxis:xAxes,
  yAxis:yAxes,
  series:series,
  graphic:{elements:gfx}
});
</script>
</body>
</html>
